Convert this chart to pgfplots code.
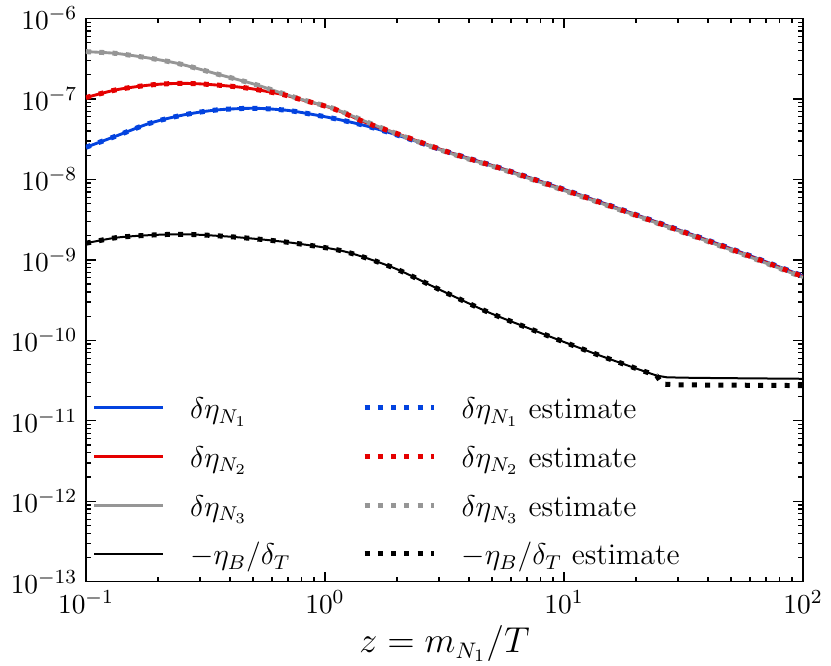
\documentclass[border=0pt]{standalone}
\usepackage{pgfplots}
\pgfplotsset{compat=1.18}
\definecolor{cblue}{RGB}{3,67,223}
\definecolor{cred}{RGB}{229,0,0}
\definecolor{cgrey}{RGB}{150,150,150}
\tikzset{est/.style={line width=2pt, dash pattern=on 2pt off 3.3pt}}
\begin{document}
\begin{tikzpicture}
\begin{axis}[
  xmode=log, ymode=log,
  scale only axis, width=286.8pt, height=225.3pt,
  xmin=0.1, xmax=100, ymin=1e-13, ymax=1e-6,
  xtick={0.1,1,10,100},
  ytick={1e-13,1e-12,1e-11,1e-10,1e-9,1e-8,1e-7,1e-6},
  axis line style={line width=0.6pt},
  major tick length=4pt, minor tick length=2pt,
  every tick/.style={black, line width=0.5pt},
  tick align=inside,
  tick label style={font=\fontsize{11}{13}\selectfont},
  xlabel={$z=m_{N_1}/T$},
  xlabel style={font=\fontsize{13.5}{16}\selectfont, at={(axis description cs:0.5,0)}, anchor=base, yshift=-28.4pt},
  legend columns=2,
  legend image code/.code={\draw[#1] (0pt,4.4pt) -- (27.6pt,4.4pt); \path (0pt,0pt) (37.8pt,0pt);},
  legend style={draw=none, fill=none, at={(rel axis cs:0,0)}, anchor=south west,
    xshift=2.7pt, yshift=2.7pt, inner sep=0pt, outer sep=0pt, row sep=5.5pt, column sep=0pt,
    font=\fontsize{12}{14}\selectfont,
    nodes={inner sep=0pt, outer sep=0pt, text height=10pt, text depth=4pt, anchor=base west}},
]
% solid curves
\addplot[cblue, line width=1.15pt, smooth, tension=0.5, forget plot] table {
x y
0.1 2.51e-8
0.134 3.47e-8
0.185 4.99e-8
0.255 6.32e-8
0.352 7.3e-8
0.501 7.66e-8
0.670 7.3e-8
0.786 6.84e-8
1.08 5.75e-8
1.49 4.62e-8
2.06 3.47e-8
3.33 2.16e-8
5.4 1.39e-8
9.6 7.85e-9
19.5 3.75e-9
51 1.35e-9
100 6.3e-10
};
\addplot[cred, line width=1.15pt, smooth, tension=0.5, forget plot] table {
x y
0.1 1.04e-7
0.134 1.30e-7
0.185 1.49e-7
0.24 1.56e-7
0.30 1.54e-7
0.413 1.43e-7
0.501 1.33e-7
0.670 1.13e-7
0.786 9.9e-8
1.08 7.6e-8
1.49 5.05e-8
2.06 3.6e-8
3.33 2.15e-8
5.4 1.38e-8
9.6 7.76e-9
19.5 3.7e-9
51 1.33e-9
100 6.2e-10
};
\addplot[cgrey, line width=1.15pt, smooth, tension=0.5, forget plot] table {
x y
0.1 3.87e-7
0.134 3.68e-7
0.185 3.21e-7
0.24 2.78e-7
0.30 2.34e-7
0.352 2.05e-7
0.501 1.54e-7
0.608 1.28e-7
0.786 1.0e-7
1.08 7.66e-8
1.49 5.2e-8
2.06 3.57e-8
3.33 2.12e-8
5.4 1.36e-8
9.6 7.6e-9
19.5 3.65e-9
51 1.3e-9
100 6.05e-10
};
\addplot[black, line width=0.8pt, smooth, tension=0.5, forget plot] table {
x y
0.1 1.61e-9
0.134 1.89e-9
0.185 2.03e-9
0.24 2.08e-9
0.30 2.05e-9
0.413 1.93e-9
0.57 1.77e-9
0.786 1.58e-9
1.21 1.27e-9
1.93 8.0e-10
3.03 4.24e-10
4.75 2.28e-10
6.76 1.5e-10
9.6 1.0e-10
13.7 6.7e-11
19.5 4.6e-11
24.4 3.65e-11
};
\addplot[black, line width=0.8pt, forget plot] table {
x y
24.4 3.65e-11
27 3.47e-11
35 3.42e-11
60 3.37e-11
100 3.33e-11
};
% estimates
\addplot[cgrey, est, smooth, tension=0.5, forget plot] table {
x y
0.1 3.87e-7
0.134 3.68e-7
0.185 3.21e-7
0.24 2.78e-7
0.30 2.34e-7
0.352 2.05e-7
0.501 1.54e-7
0.608 1.28e-7
0.786 1.0e-7
1.08 7.66e-8
1.49 5.2e-8
2.06 3.57e-8
3.33 2.12e-8
5.4 1.36e-8
9.6 7.6e-9
19.5 3.65e-9
51 1.3e-9
100 6.05e-10
};
\addplot[cblue, est, smooth, tension=0.5, forget plot] table {
x y
0.1 2.51e-8
0.134 3.47e-8
0.185 4.99e-8
0.255 6.32e-8
0.352 7.3e-8
0.501 7.66e-8
0.670 7.3e-8
0.786 6.84e-8
1.08 5.75e-8
1.49 4.62e-8
2.06 3.47e-8
3.33 2.16e-8
5.4 1.39e-8
9.6 7.85e-9
19.5 3.75e-9
51 1.35e-9
100 6.3e-10
};
\addplot[cred, est, smooth, tension=0.5, forget plot] table {
x y
0.1 1.04e-7
0.134 1.30e-7
0.185 1.49e-7
0.24 1.56e-7
0.30 1.54e-7
0.413 1.43e-7
0.501 1.33e-7
0.670 1.13e-7
0.786 9.9e-8
1.08 7.6e-8
1.49 5.05e-8
2.06 3.6e-8
3.33 2.15e-8
5.4 1.38e-8
9.6 7.76e-9
19.5 3.7e-9
51 1.33e-9
100 6.2e-10
};
\addplot[black, est, smooth, tension=0.5, forget plot] table {
x y
0.1 1.61e-9
0.134 1.89e-9
0.185 2.03e-9
0.24 2.08e-9
0.30 2.05e-9
0.413 1.93e-9
0.57 1.77e-9
0.786 1.58e-9
1.21 1.27e-9
1.93 8.0e-10
3.03 4.24e-10
4.75 2.28e-10
6.76 1.5e-10
9.6 1.0e-10
13.7 6.7e-11
19.5 4.6e-11
24.4 3.65e-11
};
\addplot[black, est, forget plot] table {
x y
24.4 3.65e-11
25.8 2.86e-11
30 2.8e-11
100 2.74e-11
};
% legend
\addlegendimage{cblue, line width=1.15pt}
\addlegendentry{\makebox[68.8pt][l]{$\delta\eta_{N_1}$}}
\addlegendimage{cblue, est}
\addlegendentry{$\delta\eta_{N_1}$ estimate}
\addlegendimage{cred, line width=1.15pt}
\addlegendentry{\makebox[68.8pt][l]{$\delta\eta_{N_2}$}}
\addlegendimage{cred, est}
\addlegendentry{$\delta\eta_{N_2}$ estimate}
\addlegendimage{cgrey, line width=1.15pt}
\addlegendentry{\makebox[68.8pt][l]{$\delta\eta_{N_3}$}}
\addlegendimage{cgrey, est}
\addlegendentry{$\delta\eta_{N_3}$ estimate}
\addlegendimage{black, line width=0.8pt}
\addlegendentry{\makebox[68.8pt][l]{$-\eta_B/\delta_T$}}
\addlegendimage{black, est}
\addlegendentry{$-\eta_B/\delta_T$ estimate}
\end{axis}
\pgfresetboundingbox
\path[use as bounding box] (-34.4pt,-33.7pt) rectangle (298pt,232.7pt);
\end{tikzpicture}
\end{document}
